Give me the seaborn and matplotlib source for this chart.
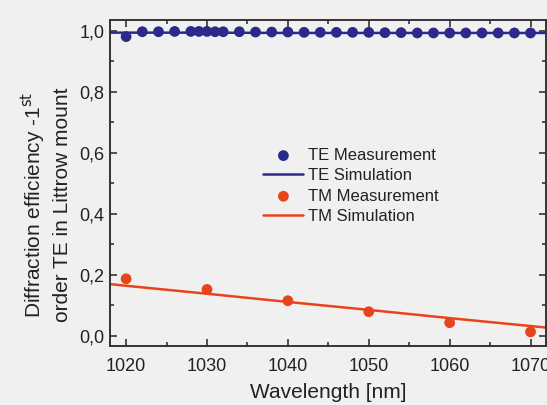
#!/usr/bin/env python3
"""Diffraction efficiency (-1st order, Littrow mount) vs wavelength, TE and TM."""

import matplotlib

matplotlib.use("Agg")
import matplotlib.pyplot as plt
import pandas as pd
import seaborn as sns
from matplotlib.ticker import FuncFormatter, MultipleLocator

TE_WL = [1020, 1022, 1024, 1026, 1028, 1029, 1030, 1031, 1032, 1034, 1036, 1038, 1040, 1042,
         1044, 1046, 1048, 1050, 1052, 1054, 1056, 1058, 1060, 1062, 1064, 1066, 1068, 1070]
TE_EFF = [0.981, 0.997, 0.997, 0.998, 0.998, 0.998, 0.998, 0.997, 0.997, 0.997, 0.996, 0.996,
          0.996, 0.995, 0.995, 0.995, 0.995, 0.995, 0.994, 0.994, 0.993, 0.993, 0.993, 0.993,
          0.993, 0.993, 0.993, 0.993]

TM_WL = [1020, 1030, 1040, 1050, 1060, 1070]
TM_EFF = [0.187, 0.152, 0.115, 0.079, 0.043, 0.013]

# simulation curves
SIM_WL = [1015, 1020, 1030, 1040, 1050, 1060, 1070, 1075]
TE_SIM = [0.994, 0.994, 0.994, 0.993, 0.993, 0.993, 0.993, 0.993]
TM_SIM = [0.178, 0.164, 0.138, 0.111, 0.085, 0.058, 0.032, 0.019]

TE_COLOR = "#2b2a8a"
TM_COLOR = "#e8441c"
BG = "#f0f0f0"

sns.set_style("ticks")
plt.rcParams["font.family"] = ["Liberation Sans", "DejaVu Sans"]

te_meas = pd.DataFrame({"wl": TE_WL, "eff": TE_EFF})
tm_meas = pd.DataFrame({"wl": TM_WL, "eff": TM_EFF})
sim = pd.DataFrame({"wl": SIM_WL, "te": TE_SIM, "tm": TM_SIM})

fig = plt.figure(figsize=(5.47, 4.05), dpi=100)
fig.patch.set_facecolor(BG)
ax = fig.add_axes([0.201, 0.146, 0.797, 0.805])
ax.set_facecolor(BG)

sns.lineplot(data=sim, x="wl", y="te", color=TE_COLOR, lw=1.8, ax=ax, label="TE Simulation")
sns.lineplot(data=sim, x="wl", y="tm", color=TM_COLOR, lw=1.8, ax=ax, label="TM Simulation")
sns.scatterplot(data=te_meas, x="wl", y="eff", color=TE_COLOR, s=60, edgecolor="none",
                ax=ax, label="TE Measurement", zorder=3)
sns.scatterplot(data=tm_meas, x="wl", y="eff", color=TM_COLOR, s=60, edgecolor="none",
                ax=ax, label="TM Measurement", zorder=3)

ax.set_xlim(1018, 1071.9)
ax.set_ylim(-0.033, 1.036)
ax.xaxis.set_major_locator(MultipleLocator(10))
ax.xaxis.set_minor_locator(MultipleLocator(5))
ax.yaxis.set_major_locator(MultipleLocator(0.2))
ax.yaxis.set_minor_locator(MultipleLocator(0.1))
ax.yaxis.set_major_formatter(FuncFormatter(lambda v, _: f"{v:.1f}".replace(".", ",")))
ax.tick_params(which="both", direction="in", top=True, right=True, colors="#333333",
               labelcolor="#222222", width=1.2)
ax.tick_params(which="major", length=5, labelsize=13)
ax.tick_params(axis="y", which="major", pad=4)
ax.tick_params(axis="x", which="major", pad=8.5)
ax.tick_params(which="minor", length=3)
for spine in ax.spines.values():
    spine.set_color("#333333")
    spine.set_linewidth(1.4)

ax.set_xlabel("Wavelength [nm]", fontsize=15, color="#222222", labelpad=6)
ax.set_ylabel("Diffraction efficiency -1$^{\\mathrm{st}}$\norder TE in Littrow mount",
              fontsize=15, color="#222222", linespacing=1.3)
ax.yaxis.set_label_coords(-0.088, 0.433)

handles, labels = ax.get_legend_handles_labels()
order = ["TE Measurement", "TE Simulation", "TM Measurement", "TM Simulation"]
hmap = dict(zip(labels, handles))
ax.legend([hmap[k] for k in order], order, loc="upper left", bbox_to_anchor=(0.352, 0.607),
          frameon=False, fontsize=12, handlelength=2.4, handletextpad=0.3,
          labelspacing=0.32, borderpad=0, borderaxespad=0, labelcolor="#222222")

plt.savefig("out.png", dpi=100, facecolor=BG)
plt.close(fig)
